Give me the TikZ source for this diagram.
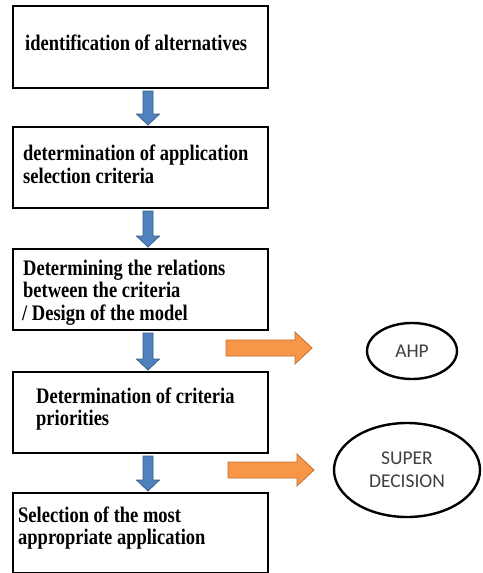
\documentclass[tikz,border=0pt]{standalone}
\usepackage{fontspec}
\setmainfont{Liberation Serif}
\newfontfamily\ellfont{Carlito}
\usetikzlibrary{calc,shapes.geometric}
\definecolor{bluefill}{HTML}{4F81BD}
\definecolor{blueline}{HTML}{385D8A}
\definecolor{orangefill}{HTML}{F79646}
\definecolor{orangeline}{HTML}{C0702F}
\definecolor{elltext}{HTML}{404040}
\newcommand{\tallline}[1]{\scalebox{1}[1.2]{#1}}
\tikzset{
  stepbox/.style={draw=black, line width=2pt, rectangle, inner sep=0pt},
  boxtext/.style={font=\fontsize{18.5}{23}\selectfont\bfseries, inner sep=0pt, anchor=base west},
  tool/.style={draw=black, line width=2.4pt, ellipse, inner sep=0pt, align=center,
    font=\ellfont\fontsize{19.5}{23}\selectfont, text=elltext},
  downarrow/.style={draw=blueline, fill=bluefill, line width=0.8pt, line join=miter,
    to path={let \p1=(\tikztostart), \p2=(\tikztotarget) in
      (\x1-5pt,\y1) -- (\x1+5pt,\y1) -- (\x1+5pt,\y2+11pt) -- (\x1+11.5pt,\y2+11pt)
      -- (\x2,\y2) -- (\x1-11.5pt,\y2+11pt) -- (\x1-5pt,\y2+11pt) -- cycle}},
  rightarrow/.style={draw=orangeline, fill=orangefill, line width=0.8pt, line join=miter,
    to path={let \p1=(\tikztostart), \p2=(\tikztotarget) in
      (\x1,\y1+8pt) -- (\x2-17pt,\y1+8pt) -- (\x2-17pt,\y1+16pt) -- (\x2,\y2)
      -- (\x2-17pt,\y1-16pt) -- (\x2-17pt,\y1-8pt) -- (\x1,\y1-8pt) -- cycle}}
}
\begin{document}
\begin{tikzpicture}[x=1pt,y=-1pt]
\useasboundingbox (0,0) rectangle (482,573);
\fill[white] (0,0) rectangle (482,573);
% boxes
\node[stepbox, anchor=north west, minimum width=255pt, minimum height=82pt] (b1) at (12,5) {};
\node[stepbox, anchor=north west, minimum width=255pt, minimum height=81pt] (b2) at (12,126) {};
\node[stepbox, anchor=north west, minimum width=255pt, minimum height=81pt] (b3) at (12,248) {};
\node[stepbox, anchor=north west, minimum width=255pt, minimum height=81pt] (b4) at (12,371) {};
\node[stepbox, anchor=north west, minimum width=255pt, minimum height=80pt] (b5) at (12,492) {};
% texts
\node[boxtext] (t1) at (25,50) {\tallline{identification of alternatives}};
\node[boxtext] (t2a) at (23,160) {\tallline{determination of application}};
\node[boxtext] (t2b) at (23,183) {\tallline{selection criteria}};
\node[boxtext] (t3a) at (23,275) {\tallline{Determining the relations}};
\node[boxtext] (t3b) at (23,297) {\tallline{between the criteria}};
\node[boxtext] (t3c) at (22,320) {\tallline{/ Design of the model}};
\node[boxtext] (t4a) at (36,403) {\tallline{Determination of criteria}};
\node[boxtext] (t4b) at (36,425) {\tallline{priorities}};
\node[boxtext] (t5a) at (18,522) {\tallline{Selection of the most}};
\node[boxtext] (t5b) at (18,544) {\tallline{appropriate application}};
% tools
\node[tool, minimum width=90pt, minimum height=56pt] (ahp) at (412,351) {AHP};
\node[tool, minimum width=146pt, minimum height=94pt] (sd) at (407,470) {SUPER\\DECISION};
% blue arrows
\coordinate (ax) at (148,0);
\path[downarrow] ([yshift=-2pt]b1.south -| ax) to ([yshift=1pt]b2.north -| ax);
\path[downarrow] ([yshift=-2pt]b2.south -| ax) to ([yshift=1pt]b3.north -| ax);
\path[downarrow] ([yshift=-2pt]b3.south -| ax) to ([yshift=1pt]b4.north -| ax);
\path[downarrow] ([yshift=-2pt]b4.south -| ax) to ([yshift=1pt]b5.north -| ax);
% orange arrows
\coordinate (o1s) at (226,348);
\coordinate (o1e) at (312,348);
\coordinate (o2s) at (228,470);
\coordinate (o2e) at (314,470);
\path[rightarrow] (o1s) to (o1e);
\path[rightarrow] (o2s) to (o2e);
\end{tikzpicture}
\end{document}
